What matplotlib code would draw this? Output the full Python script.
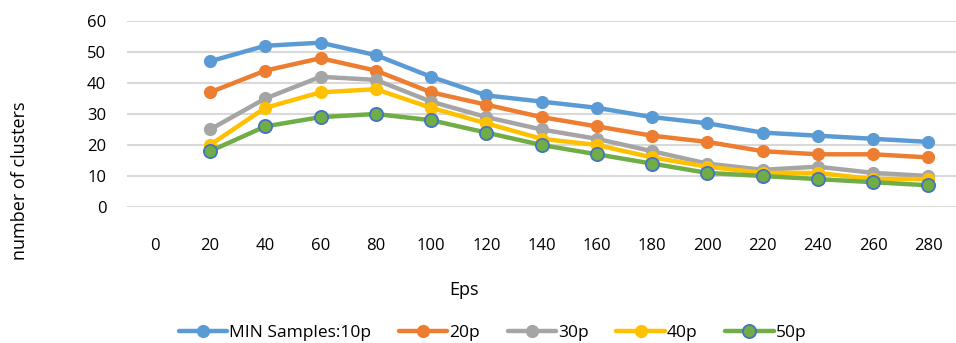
import matplotlib.pyplot as plt
import numpy as np

plt.rcParams['font.family'] = ['Open Sans', 'DejaVu Sans']

# categorias del eje x (la primera, 0, no tiene datos)
eps = ['0', '20', '40', '60', '80', '100', '120', '140', '160', '180', '200', '220', '240', '260', '280']

s10 = [47, 52, 53, 49, 42, 36, 34, 32, 29, 27, 24, 23, 22, 21]
s20 = [37, 44, 48, 44, 37, 33, 29, 26, 23, 21, 18, 17, 17, 16]
s30 = [25, 35, 42, 41, 34, 29, 25, 22, 18, 14, 12, 13, 11, 10]
s40 = [20, 32, 37, 38, 32, 27, 22, 20, 16, 13, 11, 11, 9, 9]
s50 = [18, 26, 29, 30, 28, 24, 20, 17, 14, 11, 10, 9, 8, 7]

labels = ['MIN Samples:10p', '20p', '30p', '40p', '50p']
colors = ['#5B9BD5', '#ED7D31', '#A5A5A5', '#FFC000', '#70AD47']

fig = plt.figure(figsize=(9.56, 3.43), dpi=100)
ax = fig.add_axes([0.133, 0.3965, 0.867, 0.5423])

x = np.arange(1, len(eps))
for ys, lab, c in zip([s10, s20, s30, s40, s50], labels, colors):
    edge = '#4472C4' if lab == '50p' else c
    ax.plot(x, ys, color=c, lw=3.2, marker='o', ms=9.5, mfc=c, mec=edge,
            mew=1.3 if lab == '50p' else 0, label=lab, solid_capstyle='round')

ax.set_xlim(-0.5, len(eps) - 0.5)
ax.set_ylim(0, 60)
ax.set_xticks(np.arange(len(eps)))
ax.set_xticklabels(eps)
ax.set_yticks(range(0, 61, 10))
ax.tick_params(length=0, labelsize=12, colors='#000000')
ax.tick_params(axis='x', pad=22)
ax.tick_params(axis='y', pad=15)
ax.grid(axis='y', color='#D9D9D9', lw=1.5)
ax.set_axisbelow(True)
for sp in ax.spines.values():
    sp.set_visible(False)

fig.text(0.485, 0.155, 'Eps', ha='center', va='center', fontsize=13)
fig.text(0.021, 0.472, 'number of clusters', rotation=90, ha='center', va='center', fontsize=13)

fig.legend(loc='center', bbox_to_anchor=(0.515, 0.03), ncol=5, frameon=False,
           fontsize=12.5, handlelength=2.8, columnspacing=1.6, handletextpad=0.1,
           borderaxespad=0)

fig.savefig('out.png', dpi=100)
